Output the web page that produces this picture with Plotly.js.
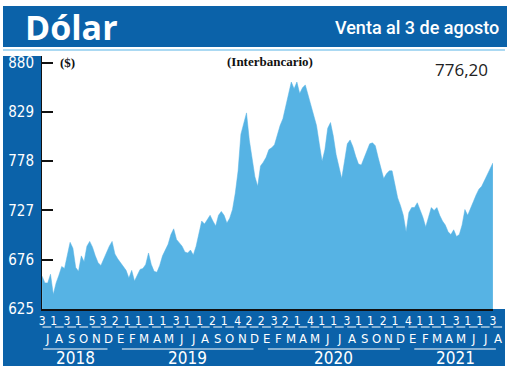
<!DOCTYPE html>
<html>
<head>
<meta charset="utf-8">
<script src="https://cdn.plot.ly/plotly-3.0.1.min.js"></script>
<style>
html,body{margin:0;padding:0;background:#ffffff;}
#chart{width:520px;height:372px;}
</style>
</head>
<body>
<div id="chart"></div>
<script>
// ---------------- DATA ----------------
const dates = [
 '2018-07-03','2018-07-10','2018-07-17','2018-07-24','2018-07-31','2018-08-07','2018-08-14','2018-08-21','2018-08-28',
 '2018-09-04','2018-09-11','2018-09-18','2018-09-25','2018-10-02','2018-10-09','2018-10-16','2018-10-23','2018-10-30',
 '2018-11-06','2018-11-13','2018-11-20','2018-11-27','2018-12-04','2018-12-11','2018-12-18','2018-12-25',
 '2019-01-01','2019-01-08','2019-01-15','2019-01-22','2019-01-29','2019-02-05','2019-02-12','2019-02-19','2019-02-26',
 '2019-03-05','2019-03-12','2019-03-19','2019-03-26','2019-04-02','2019-04-09','2019-04-16','2019-04-23','2019-04-30',
 '2019-05-07','2019-05-14','2019-05-21','2019-05-28','2019-06-04','2019-06-11','2019-06-18','2019-06-25','2019-07-02',
 '2019-07-09','2019-07-16','2019-07-23','2019-07-30','2019-08-06','2019-08-13','2019-08-20','2019-08-27','2019-09-03',
 '2019-09-10','2019-09-17','2019-09-24','2019-10-01','2019-10-08','2019-10-15','2019-10-22','2019-10-29','2019-11-05',
 '2019-11-12','2019-11-19','2019-11-26','2019-12-03','2019-12-10','2019-12-17','2019-12-24','2019-12-31',
 '2020-01-07','2020-01-14','2020-01-21','2020-01-28','2020-02-04','2020-02-11','2020-02-18','2020-02-25','2020-03-03',
 '2020-03-10','2020-03-17','2020-03-24','2020-03-31','2020-04-07','2020-04-14','2020-04-21','2020-04-28','2020-05-05',
 '2020-05-12','2020-05-19','2020-05-26','2020-06-02','2020-06-09','2020-06-16','2020-06-23','2020-06-30','2020-07-07',
 '2020-07-14','2020-07-21','2020-07-28','2020-08-04','2020-08-11','2020-08-18','2020-08-25','2020-09-01','2020-09-08',
 '2020-09-15','2020-09-22','2020-09-29','2020-10-06','2020-10-13','2020-10-20','2020-10-27','2020-11-03','2020-11-10',
 '2020-11-17','2020-11-24','2020-12-01','2020-12-08','2020-12-15','2020-12-22','2020-12-29',
 '2021-01-05','2021-01-12','2021-01-19','2021-01-26','2021-02-02','2021-02-09','2021-02-16','2021-02-23','2021-03-02',
 '2021-03-09','2021-03-16','2021-03-23','2021-03-30','2021-04-06','2021-04-13','2021-04-20','2021-04-27','2021-05-04',
 '2021-05-11','2021-05-18','2021-05-25','2021-06-01','2021-06-08','2021-06-15','2021-06-22','2021-06-29','2021-07-06',
 '2021-07-13','2021-07-20','2021-07-27','2021-08-03'
];
const values = [
 659,652,652,661,640,652,660,669,667,682,694,688,668,664,680,674,690,695,689,680,673,670,677,685,690,695,
 682,677,673,668,665,657,665,654,660,666,667,671,683,671,664,663,670,680,686,692,702,708,697,694,690,684,683,
 686,681,690,702,716,713,717,722,716,711,722,726,722,714,719,728,745,768,806,818,828,800,780,762,752,773,
 777,782,790,792,795,805,815,822,835,850,860,853,860,848,854,857,846,835,823,815,796,778,790,812,818,804,
 785,772,760,778,796,800,793,783,775,774,782,790,796,797,794,782,770,760,765,768,768,752,740,732,722,705,
 725,730,730,735,728,720,710,720,730,727,730,722,716,712,705,702,707,700,702,712,728,722,730,736,743,749,
 752,758,764,770,776.2
];
const months = ['2018-07','2018-08','2018-09','2018-10','2018-11','2018-12',
 '2019-01','2019-02','2019-03','2019-04','2019-05','2019-06','2019-07','2019-08','2019-09','2019-10','2019-11','2019-12',
 '2020-01','2020-02','2020-03','2020-04','2020-05','2020-06','2020-07','2020-08','2020-09','2020-10','2020-11','2020-12',
 '2021-01','2021-02','2021-03','2021-04','2021-05','2021-06','2021-07','2021-08'];
const firstDays = [3,1,3,1,5,3, 2,1,1,1,1,3,1,1,2,1,4,2, 2,3,2,1,4,1,1,3,1,1,2,1, 4,1,1,1,3,1,1,3];
const monthLetters = ['J','A','S','O','N','D','E','F','M','A','M','J','J','A','S','O','N','D',
 'E','F','M','A','M','J','J','A','S','O','N','D','E','F','M','A','M','J','J','A'];
const years = ['2018','2019','2020','2021'];
const yTicks = [625,676,727,778,829,880];
const lastValueText = '776,20';

// ---------------- LAYOUT HELPERS ----------------
const W = 520, H = 372, L = 42, R = 493, T = 56, B = 309;
const pw = R - L, ph = B - T;
const px = x => (x - L) / pw;
const py = y => (B - y) / ph;
const BLUE = '#0b62a9', FILL = '#56b3e4';
const NARROW = "'Liberation Sans Narrow','DejaVu Sans Condensed','Roboto Condensed',Roboto,sans-serif";
const xRange = ['2018-07-02 18:00', '2021-08-03 06:00'];
const r0 = Date.parse(xRange[0].replace(' ', 'T') + 'Z'), r1 = Date.parse(xRange[1].replace(' ', 'T') + 'Z');
const d2p = d => (Date.parse(d + 'T00:00:00Z') - r0) / (r1 - r0);
const pad2 = n => (n < 10 ? '0' : '') + n;

const tickDates = months.map((m, i) => m + '-' + pad2(firstDays[i]));
const tickText = firstDays.map(String);

const shapes = [
  {type:'rect', xref:'paper', yref:'paper', x0:px(3), x1:px(42), y0:py(366), y1:py(56), fillcolor:BLUE, line:{width:0}, layer:'below'},
  {type:'rect', xref:'paper', yref:'paper', x0:px(3), x1:px(505), y0:py(366), y1:py(309), fillcolor:BLUE, line:{width:0}, layer:'below'},
  {type:'rect', xref:'paper', yref:'paper', x0:px(3), x1:px(507), y0:py(47), y1:py(6), fillcolor:BLUE, line:{width:0}, layer:'below'},
  {type:'line', xref:'paper', yref:'paper', x0:px(3), x1:px(505), y0:py(50), y1:py(50), line:{color:'#8fcdee', width:1.5}}
];
months.forEach(m => {
  shapes.push({type:'line', xref:'paper', yref:'paper', x0:d2p(m + '-04'), x1:d2p(m + '-26'),
    y0:py(327), y1:py(327), line:{color:'#ffffff', width:1}});
});
const annotations = [];
months.forEach((m, i) => {
  annotations.push({xref:'paper', yref:'paper', x:d2p(m + '-15'), y:py(338), text:monthLetters[i],
    showarrow:false, xanchor:'center', yanchor:'middle', font:{family:NARROW, size:13, color:'#ffffff'}});
});
years.forEach((yr, i) => {
  const dataStart = d2p(dates[0]), dataEnd = d2p(dates[dates.length - 1]);
  let a = Math.max(d2p(yr + '-01-01') + 7 / pw, dataStart + 1 / pw);
  let b = Math.min(d2p(yr + '-12-31') - 7 / pw, dataEnd + 3 / pw);
  shapes.push({type:'line', xref:'paper', yref:'paper', x0:a, x1:b, y0:py(349), y1:py(349), line:{color:'#ffffff', width:1}});
  annotations.push({xref:'paper', yref:'paper', x:(a + b) / 2, y:py(358), text:yr, showarrow:false,
    xanchor:'center', yanchor:'middle', font:{family:NARROW, size:17, color:'#ffffff'}});
});
annotations.push(
  {xref:'paper', yref:'paper', x:px(23), y:py(27), text:'<b>Dólar</b>', showarrow:false, xanchor:'left', yanchor:'middle',
   font:{family:"'Open Sans',sans-serif", size:34, color:'#ffffff'}},
  {xref:'paper', yref:'paper', x:px(501), y:py(28), text:'Venta al 3 de agosto', showarrow:false, xanchor:'right', yanchor:'middle',
   font:{family:"Roboto,sans-serif", size:18, color:'#ffffff', weight:500}},
  {xref:'paper', yref:'paper', x:px(270), y:py(61), text:'<b>(Interbancario)</b>', showarrow:false, xanchor:'center', yanchor:'middle',
   font:{family:"'Liberation Serif',serif", size:13, color:'#111111'}},
  {xref:'paper', yref:'paper', x:px(58), y:py(63), text:'<b>($)</b>', showarrow:false, xanchor:'left', yanchor:'middle',
   font:{family:"'Liberation Serif',serif", size:13, color:'#111111'}},
  {xref:'paper', yref:'paper', x:px(490), y:py(69), text:lastValueText, showarrow:false, xanchor:'right', yanchor:'middle',
   font:{family:"'Open Sans',sans-serif", size:17, color:'#222222'}}
);

const trace = {
  x: dates, y: values, type:'scatter', mode:'lines', fill:'tozeroy',
  line:{color:FILL, width:0.5, shape:'linear'}, fillcolor:FILL, hoverinfo:'skip'
};

const layout = {
  width:W, height:H, margin:{l:L, r:W - R, t:T, b:H - B, pad:0},
  paper_bgcolor:'#ffffff', plot_bgcolor:'#ffffff', showlegend:false,
  xaxis:{type:'date', range:xRange, showgrid:false, zeroline:false, showline:true, linecolor:'#111111', linewidth:2,
    tickmode:'array', tickvals:tickDates, ticktext:tickText, ticks:'', tickangle:0,
    tickfont:{family:NARROW, size:12, color:'#ffffff'}, ticklabelstandoff:0},
  yaxis:{range:[625, 886.9], showgrid:false, zeroline:false, showline:true, linecolor:'#111111', linewidth:1,
    tickmode:'array', tickvals:yTicks, ticktext:yTicks.map(String), ticks:'inside', ticklen:11, tickwidth:2, tickcolor:'#111111',
    tickfont:{family:NARROW, size:15, color:'#ffffff'}, ticklabelstandoff:4},
  shapes:shapes, annotations:annotations
};
Plotly.newPlot('chart', [trace], layout, {staticPlot:true, displayModeBar:false});
</script>
</body>
</html>
